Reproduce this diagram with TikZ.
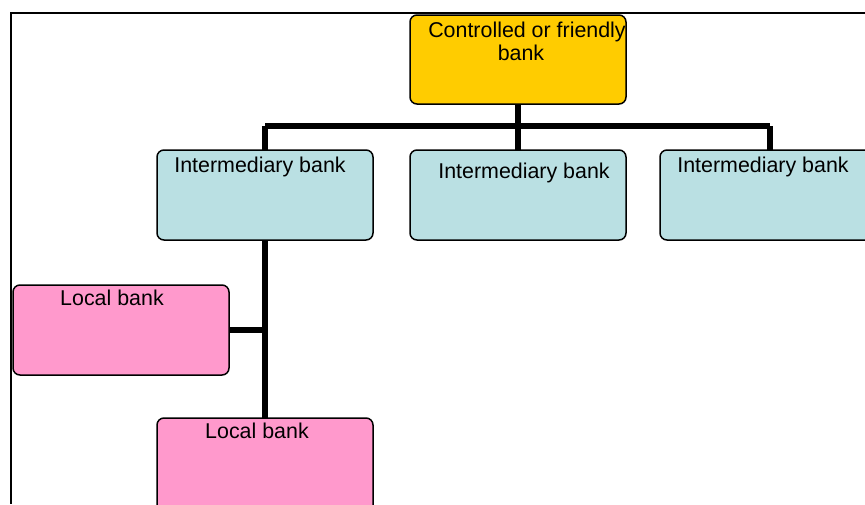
\documentclass[tikz,border=0pt]{standalone}
\usepackage{fontspec}
\setmainfont{Liberation Sans}
\definecolor{boxyellow}{HTML}{FFCC00}
\definecolor{boxblue}{HTML}{BAE0E3}
\definecolor{boxpink}{HTML}{FF99CC}
\begin{document}
\begin{tikzpicture}[x=1pt,y=-1pt,
  bank/.style={draw=black,line width=1.5pt,rounded corners=7pt,rectangle,inner sep=0pt,outer sep=0pt,minimum width=216pt,minimum height=90pt},
  lbl/.style={anchor=base,inner sep=0pt,font=\fontsize{21.4}{22}\selectfont},
  link/.style={line width=6pt}]
\useasboundingbox (0,0) rectangle (865,504);
\clip (0,0) rectangle (865,504);
\draw[line width=1.5pt] (865,13) -- (11,13) -- (11,504);
% boxes
\node[bank,fill=boxyellow,minimum height=89pt] (top) at (518,59.5) {};
\node[bank,fill=boxblue] (ib1) at (265,195) {};
\node[bank,fill=boxblue] (ib2) at (518,195) {};
\node[bank,fill=boxblue,minimum width=230pt] (ib3) at (775,195) {};
\node[bank,fill=boxpink] (lb1) at (121,330) {};
\node[bank,fill=boxpink,minimum height=112pt] (lb2) at (265,474) {};
% connectors
\coordinate (hl) at (265,126);
\coordinate (hm) at (518,126);
\coordinate (hr) at (770,126);
\begin{scope}[on background layer/.style={}]
\end{scope}
\draw[link] (top.south) -- (hm);
\draw[link] (hl) -- (hr);
\draw[link] (hl) -- (ib1.north);
\draw[link] (hm) -- (ib2.north);
\draw[link] (hr) -- (hr |- ib3.north);
\draw[link] (ib1.south) -- (lb2.north);
\draw[link] (lb1.east) -- (lb1.east -| ib1.south);
% labels
\node[lbl] (top1) at (527,37) {Controlled or friendly};
\node[lbl] (top2) at (521,60) {bank};
\node[lbl] (ib1t) at (260,172) {Intermediary bank};
\node[lbl] (ib2t) at (524,178) {Intermediary bank};
\node[lbl] (ib3t) at (763,172) {Intermediary bank};
\node[lbl] (lb1t) at (112,305) {Local bank};
\node[lbl] (lb2t) at (257,438) {Local bank};
\end{tikzpicture}
\end{document}
